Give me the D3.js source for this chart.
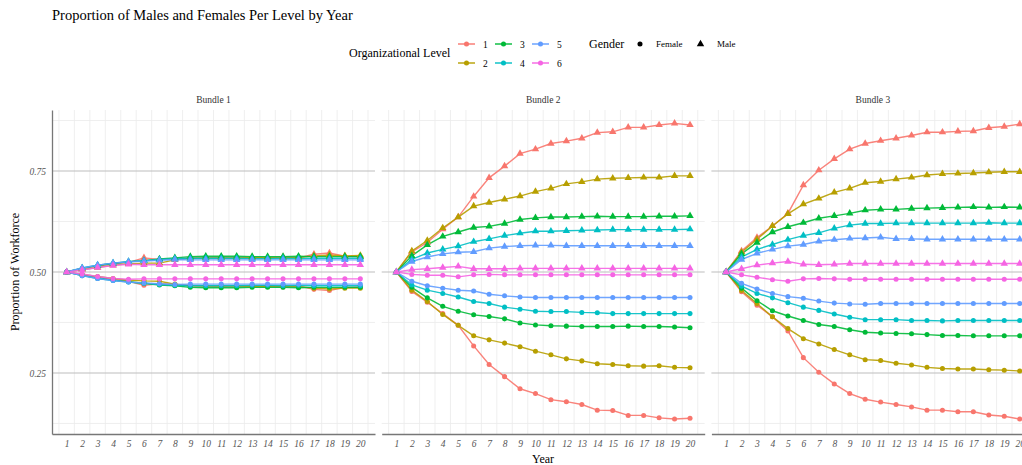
<!DOCTYPE html>
<html>
<head>
<meta charset="utf-8">
<script src="https://cdn.jsdelivr.net/npm/d3@7"></script>
<style>
  html, body { margin: 0; padding: 0; background: #ffffff; }
  svg { display: block; font-family: "Liberation Serif", "DejaVu Serif", serif; }
</style>
</head>
<body>
<svg id="chart" width="1022" height="465"></svg>
<script>
// ---- data ---------------------------------------------------------------
const years = d3.range(1, 21);
const bundles = ["Bundle 1", "Bundle 2", "Bundle 3"];
const levels = ["1", "2", "3", "4", "5", "6"];
const genders = ["Female", "Male"];
const levelColors = ["#F8766D", "#B79F00", "#00BA38", "#00BFC4", "#619CFF", "#F564E3"];
const yTicks = [0.25, 0.50, 0.75];

// Bundle 1 — male share per level
const b1Male1 = [0.500,0.509,0.515,0.520,0.524,0.535,0.531,0.533,0.535,0.535,0.536,0.535,0.535,0.534,0.537,0.535,0.544,0.547,0.539,0.538];
const b1Male2 = [0.500,0.506,0.511,0.517,0.520,0.522,0.522,0.530,0.534,0.535,0.535,0.535,0.536,0.536,0.535,0.536,0.540,0.542,0.540,0.541];
const b1Male3 = [0.500,0.509,0.516,0.521,0.525,0.528,0.532,0.535,0.538,0.539,0.539,0.539,0.538,0.538,0.538,0.539,0.538,0.538,0.538,0.538];
const b1Male4 = [0.500,0.510,0.517,0.522,0.526,0.528,0.531,0.533,0.534,0.534,0.534,0.534,0.533,0.533,0.534,0.533,0.534,0.534,0.534,0.534];
const b1Male5 = [0.500,0.510,0.517,0.522,0.525,0.527,0.529,0.531,0.530,0.530,0.530,0.530,0.530,0.530,0.530,0.530,0.530,0.530,0.530,0.530];
const b1Male6 = [0.500,0.505,0.511,0.516,0.519,0.518,0.518,0.518,0.518,0.518,0.518,0.518,0.518,0.518,0.518,0.518,0.518,0.518,0.518,0.518];
// Bundle 1 — female share per level
const b1Female1 = [0.500,0.493,0.487,0.482,0.477,0.467,0.471,0.469,0.466,0.465,0.464,0.465,0.465,0.466,0.463,0.465,0.457,0.454,0.462,0.463];
const b1Female2 = [0.500,0.494,0.489,0.484,0.480,0.478,0.477,0.470,0.466,0.465,0.465,0.465,0.464,0.464,0.465,0.464,0.460,0.458,0.460,0.460];
const b1Female3 = [0.500,0.492,0.485,0.480,0.476,0.472,0.468,0.466,0.462,0.461,0.461,0.461,0.462,0.462,0.462,0.461,0.462,0.462,0.462,0.462];
const b1Female4 = [0.500,0.491,0.484,0.479,0.475,0.472,0.469,0.467,0.466,0.466,0.466,0.466,0.467,0.467,0.466,0.467,0.466,0.466,0.466,0.466];
const b1Female5 = [0.500,0.491,0.484,0.479,0.475,0.473,0.471,0.469,0.470,0.470,0.470,0.470,0.470,0.470,0.470,0.470,0.470,0.470,0.470,0.470];
const b1Female6 = [0.500,0.495,0.489,0.484,0.482,0.483,0.483,0.483,0.483,0.483,0.483,0.483,0.483,0.483,0.483,0.483,0.483,0.483,0.483,0.483];

// Bundle 2 — male share per level
const b2Male1 = [0.500,0.550,0.573,0.606,0.636,0.687,0.733,0.762,0.793,0.804,0.818,0.824,0.831,0.845,0.847,0.858,0.858,0.864,0.868,0.864];
const b2Male2 = [0.500,0.552,0.578,0.609,0.636,0.663,0.672,0.680,0.688,0.699,0.707,0.718,0.723,0.730,0.732,0.733,0.734,0.734,0.738,0.738];
const b2Male3 = [0.500,0.540,0.567,0.588,0.599,0.610,0.613,0.620,0.630,0.634,0.636,0.636,0.637,0.638,0.637,0.637,0.637,0.638,0.638,0.639];
const b2Male4 = [0.500,0.531,0.547,0.556,0.564,0.575,0.582,0.590,0.596,0.601,0.601,0.602,0.603,0.604,0.605,0.605,0.605,0.605,0.605,0.606];
const b2Male5 = [0.500,0.526,0.537,0.545,0.549,0.550,0.559,0.563,0.565,0.566,0.566,0.565,0.565,0.565,0.565,0.565,0.565,0.565,0.565,0.565];
const b2Male6 = [0.500,0.506,0.508,0.511,0.514,0.508,0.508,0.508,0.509,0.509,0.509,0.509,0.509,0.509,0.509,0.509,0.509,0.509,0.509,0.509];
// Bundle 2 — female share per level
const b2Female1 = [0.500,0.452,0.425,0.397,0.368,0.317,0.271,0.241,0.211,0.199,0.184,0.179,0.172,0.158,0.157,0.145,0.145,0.139,0.136,0.138];
const b2Female2 = [0.500,0.455,0.427,0.395,0.368,0.342,0.332,0.324,0.315,0.304,0.295,0.285,0.280,0.273,0.271,0.268,0.267,0.268,0.264,0.263];
const b2Female3 = [0.500,0.462,0.436,0.415,0.403,0.394,0.390,0.384,0.374,0.369,0.367,0.366,0.365,0.365,0.365,0.366,0.365,0.365,0.364,0.362];
const b2Female4 = [0.500,0.468,0.455,0.447,0.438,0.427,0.422,0.413,0.408,0.403,0.402,0.402,0.400,0.399,0.397,0.397,0.397,0.397,0.397,0.397];
const b2Female5 = [0.500,0.477,0.466,0.460,0.455,0.453,0.445,0.441,0.438,0.437,0.437,0.437,0.437,0.437,0.437,0.437,0.437,0.437,0.437,0.437];
const b2Female6 = [0.500,0.494,0.492,0.492,0.488,0.493,0.494,0.493,0.493,0.493,0.493,0.493,0.493,0.493,0.493,0.493,0.493,0.493,0.493,0.493];

// Bundle 3 — male share per level
const b3Male1 = [0.500,0.552,0.585,0.614,0.645,0.715,0.752,0.780,0.804,0.818,0.825,0.831,0.838,0.846,0.846,0.848,0.849,0.857,0.860,0.866];
const b3Male2 = [0.500,0.549,0.581,0.614,0.644,0.668,0.682,0.697,0.707,0.721,0.724,0.730,0.734,0.740,0.743,0.744,0.745,0.747,0.748,0.748];
const b3Male3 = [0.500,0.545,0.573,0.599,0.612,0.622,0.633,0.639,0.645,0.653,0.655,0.655,0.657,0.658,0.659,0.660,0.661,0.660,0.661,0.660];
const b3Male4 = [0.500,0.537,0.556,0.568,0.580,0.590,0.597,0.608,0.616,0.620,0.620,0.621,0.621,0.621,0.621,0.621,0.621,0.622,0.621,0.621];
const b3Male5 = [0.500,0.531,0.546,0.556,0.564,0.568,0.576,0.580,0.583,0.584,0.586,0.582,0.582,0.581,0.581,0.581,0.581,0.581,0.581,0.581];
const b3Male6 = [0.500,0.508,0.517,0.522,0.526,0.519,0.518,0.519,0.521,0.521,0.521,0.521,0.521,0.521,0.521,0.521,0.521,0.521,0.521,0.521];
// Bundle 3 — female share per level
const b3Female1 = [0.500,0.451,0.418,0.389,0.354,0.288,0.252,0.223,0.199,0.185,0.178,0.172,0.166,0.158,0.158,0.154,0.154,0.146,0.143,0.136];
const b3Female2 = [0.500,0.454,0.422,0.389,0.360,0.335,0.322,0.308,0.295,0.283,0.281,0.274,0.270,0.264,0.261,0.260,0.260,0.258,0.257,0.255];
const b3Female3 = [0.500,0.460,0.429,0.404,0.391,0.380,0.370,0.365,0.357,0.351,0.349,0.348,0.347,0.345,0.343,0.343,0.342,0.342,0.342,0.342];
const b3Female4 = [0.500,0.465,0.447,0.436,0.424,0.413,0.405,0.396,0.388,0.382,0.382,0.382,0.380,0.380,0.379,0.380,0.380,0.380,0.380,0.380];
const b3Female5 = [0.500,0.472,0.458,0.447,0.439,0.435,0.428,0.423,0.421,0.420,0.422,0.422,0.422,0.422,0.422,0.422,0.422,0.422,0.422,0.422];
const b3Female6 = [0.500,0.493,0.487,0.481,0.477,0.483,0.484,0.483,0.482,0.482,0.482,0.482,0.482,0.482,0.482,0.482,0.482,0.482,0.482,0.482];

const panelSeries = [
  { Male: [b1Male1, b1Male2, b1Male3, b1Male4, b1Male5, b1Male6],
    Female: [b1Female1, b1Female2, b1Female3, b1Female4, b1Female5, b1Female6] },
  { Male: [b2Male1, b2Male2, b2Male3, b2Male4, b2Male5, b2Male6],
    Female: [b2Female1, b2Female2, b2Female3, b2Female4, b2Female5, b2Female6] },
  { Male: [b3Male1, b3Male2, b3Male3, b3Male4, b3Male5, b3Male6],
    Female: [b3Female1, b3Female2, b3Female3, b3Female4, b3Female5, b3Female6] }
];

// ---- layout -------------------------------------------------------------
const svg = d3.select("#chart");
const panelTop = 110, panelBottom = 434;
const panelW = 323, panelGap = 6.7, firstLeft = 52;

const color = d3.scaleOrdinal().domain(levels).range(levelColors);
const y = d3.scaleLinear().domain([0.099, 0.901]).range([panelBottom, panelTop]);
const symbolFor = { Female: d3.symbolCircle, Male: d3.symbolTriangle };
const symbolSize = { Female: 20, Male: 24 };

// title
svg.append("text")
  .attr("x", 52).attr("y", 20)
  .attr("font-size", 14.5).attr("fill", "#000")
  .text("Proportion of Males and Females Per Level by Year");

bundles.forEach((bundle, bi) => {
  const left = firstLeft + bi * (panelW + panelGap);
  const x = d3.scaleLinear().domain([0.05, 20.95]).range([left, left + panelW]);
  const g = svg.append("g");

  // minor vertical grid at half-years
  g.selectAll("line.vgrid").data(d3.range(0.5, 21, 1)).join("line")
    .attr("x1", d => x(d)).attr("x2", d => x(d))
    .attr("y1", panelTop).attr("y2", panelBottom)
    .attr("stroke", "#ebebeb").attr("stroke-width", 0.8);
  // minor horizontal grid
  g.selectAll("line.hminor").data([0.125, 0.375, 0.625, 0.875]).join("line")
    .attr("x1", left).attr("x2", left + panelW)
    .attr("y1", d => y(d)).attr("y2", d => y(d))
    .attr("stroke", "#ebebeb").attr("stroke-width", 0.8);
  // major horizontal grid
  g.selectAll("line.hmajor").data(yTicks).join("line")
    .attr("x1", left).attr("x2", left + panelW)
    .attr("y1", d => y(d)).attr("y2", d => y(d))
    .attr("stroke", "#bdbdbd").attr("stroke-width", 1.1);

  // strip label
  svg.append("text")
    .attr("x", left + panelW / 2).attr("y", 103)
    .attr("text-anchor", "middle").attr("font-size", 9.5).attr("fill", "#333")
    .text(bundle);

  // series
  const series = [];
  genders.forEach(gender => {
    levels.forEach((lvl, li) => {
      series.push({ gender, level: lvl, values: panelSeries[bi][gender][li] });
    });
  });
  const line = d3.line().x((d, i) => x(years[i])).y(d => y(d));
  g.selectAll("path.series").data(series).join("path")
    .attr("d", s => line(s.values))
    .attr("fill", "none")
    .attr("stroke", s => color(s.level))
    .attr("stroke-width", 1.4)
    .attr("stroke-opacity", 0.9);
  series.forEach(s => {
    g.selectAll(null).data(s.values).join("path")
      .attr("transform", (d, i) => `translate(${x(years[i])},${y(d)})`)
      .attr("d", d3.symbol(symbolFor[s.gender], symbolSize[s.gender]))
      .attr("fill", color(s.level));
  });

  // x axis
  const xAxis = g.append("g")
    .attr("transform", `translate(0,${panelBottom})`)
    .call(d3.axisBottom(x).tickValues(years).tickSize(0).tickPadding(6).tickFormat(d3.format("d")));
  xAxis.select(".domain").attr("stroke", "#777").attr("stroke-width", 1.3);
  xAxis.selectAll("text")
    .attr("font-family", "Liberation Serif, serif").attr("font-style", "italic")
    .attr("font-size", 9.5).attr("fill", "#555");

  // y axis on first panel only
  if (bi === 0) {
    const yAxis = g.append("g")
      .attr("transform", `translate(${left},0)`)
      .call(d3.axisLeft(y).tickValues(yTicks).tickSize(0).tickPadding(6).tickFormat(d3.format(".2f")));
    yAxis.select(".domain").attr("stroke", "#777").attr("stroke-width", 1.3);
    yAxis.selectAll("text")
      .attr("font-family", "Liberation Serif, serif").attr("font-style", "italic")
      .attr("font-size", 9.5).attr("fill", "#555");
  }
});

// axis titles
svg.append("text")
  .attr("transform", `translate(19,${(panelTop + panelBottom) / 2}) rotate(-90)`)
  .attr("text-anchor", "middle").attr("font-size", 12).attr("fill", "#000")
  .text("Proportion of Workforce");
svg.append("text")
  .attr("x", 543).attr("y", 463)
  .attr("text-anchor", "middle").attr("font-size", 12).attr("fill", "#000")
  .text("Year");

// ---- legend -------------------------------------------------------------
const lg = svg.append("g");
lg.append("text").attr("x", 349).attr("y", 57)
  .attr("font-size", 12).attr("fill", "#000").text("Organizational Level");
const keyCols = [459, 496, 533];
const keyRows = [44, 63];
levels.forEach((lvl, i) => {
  const cx = keyCols[Math.floor(i / 2)], cy = keyRows[i % 2];
  lg.append("line").attr("x1", cx - 1).attr("x2", cx + 16)
    .attr("y1", cy).attr("y2", cy)
    .attr("stroke", color(lvl)).attr("stroke-width", 1.4);
  lg.append("path").attr("transform", `translate(${cx + 7.5},${cy})`)
    .attr("d", d3.symbol(d3.symbolCircle, 20)).attr("fill", color(lvl));
  lg.append("text").attr("x", cx + 24).attr("y", cy + 3.5)
    .attr("font-size", 9.5).attr("fill", "#000").text(lvl);
});
lg.append("text").attr("x", 589).attr("y", 48)
  .attr("font-size", 12).attr("fill", "#000").text("Gender");
const gKeys = [{ g: "Female", sx: 640, tx: 656 }, { g: "Male", sx: 700.5, tx: 717 }];
gKeys.forEach(k => {
  lg.append("path").attr("transform", `translate(${k.sx},${44})`)
    .attr("d", d3.symbol(symbolFor[k.g], symbolSize[k.g])).attr("fill", "#000");
  lg.append("text").attr("x", k.tx).attr("y", 47)
    .attr("font-size", 9).attr("fill", "#000").text(k.g);
});
</script>
</body>
</html>
